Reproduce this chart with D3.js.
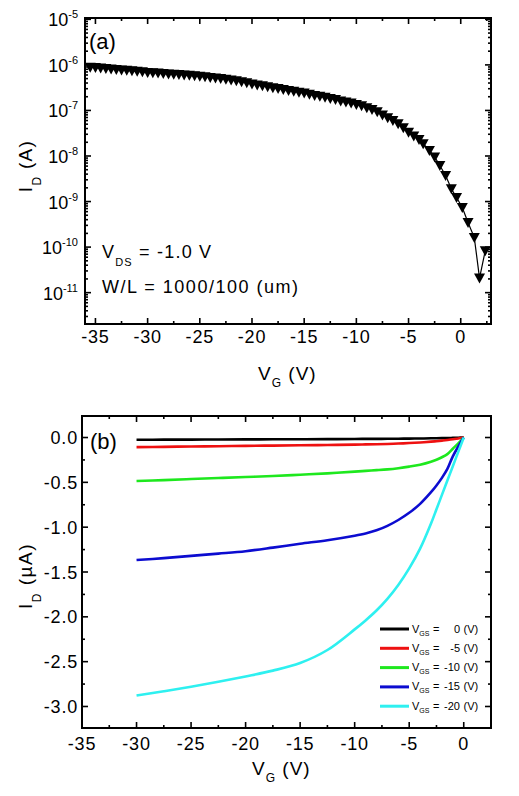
<!DOCTYPE html>
<html><head><meta charset="utf-8">
<script src="https://cdn.jsdelivr.net/npm/d3@7"></script>
<style>
body{margin:0;background:#fff}
svg{display:block}
text{font-family:"Liberation Sans",Arial,Helvetica,sans-serif;fill:#000}
</style>
</head><body>
<svg id="c" width="519" height="796"></svg>
<script>
// ---------------- DATA ----------------
// (a) transfer curve: gate voltage (V) and drain current (A)
const transferVg = [-35.5,-35,-34.5,-34,-33.5,-33,-32.5,-32,-31.5,-31,-30.5,-30,-29.5,-29,-28.5,-28,-27.5,-27,-26.5,-26,-25.5,-25,-24.5,-24,-23.5,-23,-22.5,-22,-21.5,-21,-20.5,-20,-19.5,-19,-18.5,-18,-17.5,-17,-16.5,-16,-15.5,-15,-14.5,-14,-13.5,-13,-12.5,-12,-11.5,-11,-10.5,-10,-9.5,-9,-8.5,-8,-7.5,-7,-6.5,-6,-5.5,-5,-4.5,-4,-3.6,-3.0,-2.5,-2.0,-1.45,-0.9,-0.4,0.15,0.7,1.3,1.8,2.35];
const transferId = [8.91e-7,8.71e-7,8.51e-7,8.32e-7,8.13e-7,7.94e-7,7.76e-7,7.59e-7,7.41e-7,7.24e-7,7.08e-7,6.84e-7,6.76e-7,6.61e-7,6.46e-7,6.31e-7,6.24e-7,6.17e-7,6.03e-7,5.89e-7,5.75e-7,5.62e-7,5.50e-7,5.31e-7,5.13e-7,5.01e-7,4.84e-7,4.68e-7,4.47e-7,4.27e-7,4.07e-7,3.80e-7,3.63e-7,3.47e-7,3.31e-7,3.16e-7,3.02e-7,2.88e-7,2.75e-7,2.63e-7,2.51e-7,2.40e-7,2.26e-7,2.14e-7,2.04e-7,1.95e-7,1.84e-7,1.74e-7,1.62e-7,1.53e-7,1.45e-7,1.35e-7,1.26e-7,1.15e-7,1.05e-7,9.33e-8,7.94e-8,6.92e-8,6.03e-8,5.13e-8,4.17e-8,3.31e-8,2.75e-8,2.29e-8,1.86e-8,1.32e-8,9.55e-9,6.17e-9,3.72e-9,1.91e-9,1.23e-9,7.41e-10,3.47e-10,1.62e-10,2.09e-11,8.32e-11];
const transferXTicks = [-35,-30,-25,-20,-15,-10,-5,0];
const transferYTicks = [1e-11,1e-10,1e-9,1e-8,1e-7,1e-6,1e-5];

// (b) output curves: voltage (V) and drain current (uA)
const outputV = [-30,-27.5,-25,-22.5,-20,-17.5,-15,-12.5,-10,-9,-8,-7,-6,-5,-4,-3,-2.5,-2,-1.5,-1,-0.5,0];
const outputVgs = ["0","-5","-10","-15","-20"];
const outputI0   = [-0.025,-0.024,-0.023,-0.022,-0.021,-0.020,-0.019,-0.018,-0.016,-0.015,-0.015,-0.014,-0.013,-0.012,-0.011,-0.009,-0.008,-0.007,-0.006,-0.004,-0.002,0];
const outputI5   = [-0.107,-0.104,-0.100,-0.097,-0.093,-0.090,-0.087,-0.083,-0.079,-0.077,-0.075,-0.072,-0.067,-0.062,-0.055,-0.046,-0.041,-0.035,-0.028,-0.020,-0.010,0];
const outputI10  = [-0.485,-0.475,-0.463,-0.452,-0.440,-0.430,-0.415,-0.400,-0.380,-0.372,-0.364,-0.355,-0.342,-0.325,-0.303,-0.270,-0.248,-0.220,-0.185,-0.125,-0.065,0];
const outputI15  = [-1.367,-1.345,-1.320,-1.295,-1.268,-1.228,-1.185,-1.145,-1.095,-1.070,-1.035,-0.985,-0.920,-0.840,-0.740,-0.610,-0.535,-0.450,-0.350,-0.210,-0.100,0];
const outputI20  = [-2.878,-2.830,-2.780,-2.725,-2.665,-2.600,-2.515,-2.370,-2.140,-2.040,-1.930,-1.800,-1.645,-1.460,-1.240,-0.960,-0.800,-0.640,-0.480,-0.320,-0.160,0];
const outputXTicks = [-35,-30,-25,-20,-15,-10,-5,0];
const outputYTicks = [0,-0.5,-1.0,-1.5,-2.0,-2.5,-3.0];

// ---------------- STYLE ----------------
const seriesColors = ["#000000","#ee1111","#1ee81e","#0c0cd0","#2ef0f0"];

const svg = d3.select("#c");

function drawFrame(box, x, y, xMajor, xMinor, yMajor, yMinor){
  const g = svg.append("g");
  const mk = (axisFn, scale, vals, size, tr) => {
    const a = g.append("g").attr("transform", tr)
      .call(axisFn(scale).tickValues(vals).tickSize(-size).tickSizeOuter(0).tickFormat("").offset(0));
    a.select(".domain").attr("stroke-width", 2).attr("stroke-linecap","square");
    a.selectAll(".tick line").attr("stroke-width", 1.6);
    return a;
  };
  mk(d3.axisBottom, x, xMajor, 6, `translate(0,${box.b})`);
  mk(d3.axisBottom, x, xMinor, 3, `translate(0,${box.b})`).select(".domain").remove();
  mk(d3.axisTop, x, xMajor, 6, `translate(0,${box.t})`);
  mk(d3.axisTop, x, xMinor, 3, `translate(0,${box.t})`).select(".domain").remove();
  mk(d3.axisLeft, y, yMajor, 6, `translate(${box.l},0)`);
  mk(d3.axisLeft, y, yMinor, 3, `translate(${box.l},0)`).select(".domain").remove();
  mk(d3.axisRight, y, yMajor, 6, `translate(${box.r},0)`);
  mk(d3.axisRight, y, yMinor, 3, `translate(${box.r},0)`).select(".domain").remove();
}

// ================= PANEL (a) =================
const A = {l:85, r:491, t:18, b:324};
const xA = d3.scaleLinear().domain([-36, 2.9]).range([A.l, A.r]);
const yA = d3.scaleLog().domain([2.05e-12, 1.07e-5]).range([A.b, A.t]);

const xMinorA = d3.range(-32.5, 2.6, 5);
const yMinorA = [];
for (let e = -12; e <= -6; e++) for (let k = 2; k <= 9; k++) {
  const v = k * Math.pow(10, e);
  if (v > yA.domain()[0] && v < yA.domain()[1]) yMinorA.push(v);
}

const ptsA = transferVg.map((v,i)=>[v, transferId[i]]);
svg.append("path").datum(ptsA)
  .attr("fill","none").attr("stroke","#000").attr("stroke-width",1.2)
  .attr("d", d3.line().x(d=>xA(d[0])).y(d=>yA(d[1])));
svg.append("g").selectAll("path").data(ptsA).join("path")
  .attr("transform", d=>`translate(${xA(d[0])},${yA(d[1])})`)
  .attr("d","M-5.5,-4.5L5.5,-4.5L0,5.5Z")
  .attr("fill","#000");

drawFrame(A, xA, yA, transferXTicks, xMinorA, transferYTicks, yMinorA);

svg.append("g").selectAll("text").data(transferXTicks).join("text")
  .attr("x", d=>xA(d)).attr("y", A.b + 19)
  .attr("text-anchor","middle").attr("font-size",18).attr("letter-spacing",0.8)
  .text(d=>String(d));
const yl = svg.append("g").selectAll("text").data(transferYTicks).join("text")
  .attr("x", 78).attr("y", d=>yA(d) + 7)
  .attr("text-anchor","end").attr("font-size",18);
yl.append("tspan").text("10");
yl.append("tspan").attr("font-size",11).attr("dy",-8).text(d=>String(Math.round(Math.log10(d))));

const tA = svg.append("text").attr("x", 258).attr("y", 380).attr("font-size",19).attr("letter-spacing",1);
tA.append("tspan").text("V");
tA.append("tspan").attr("font-size",12).attr("dy",7).text("G");
tA.append("tspan").attr("dy",-7).text(" (V)");

const yTa = svg.append("text").attr("transform","translate(32,166) rotate(-90)")
  .attr("text-anchor","middle").attr("font-size",19).attr("letter-spacing",1.3);
yTa.append("tspan").text("I");
yTa.append("tspan").attr("font-size",12).attr("dy",9).text("D");
yTa.append("tspan").attr("dy",-9).text(" (A)");

svg.append("text").attr("x",89).attr("y",49).attr("font-size",22).text("(a)");

const ann1 = svg.append("text").attr("x",102).attr("y",258).attr("font-size",18).attr("letter-spacing",1.2);
ann1.append("tspan").text("V");
ann1.append("tspan").attr("font-size",11).attr("dy",8).text("DS");
ann1.append("tspan").attr("dy",-8).text(" = -1.0 V");
svg.append("text").attr("x",102).attr("y",293).attr("font-size",18).attr("letter-spacing",1.5)
  .text("W/L = 1000/100 (um)");

// ================= PANEL (b) =================
const B = {l:82, r:491, t:416, b:728};
const xB = d3.scaleLinear().domain([-35, 2.5]).range([B.l, B.r]);
const yB = d3.scaleLinear().domain([-3.24, 0.24]).range([B.b, B.t]);
const xMinorB = d3.range(-32.5, 0, 5);
const yMinorB = d3.range(-0.25, -3.2, -0.5);

const outputSeries = [outputI0, outputI5, outputI10, outputI15, outputI20];
const lineB = d3.line().x(d=>xB(d[0])).y(d=>yB(d[1])).curve(d3.curveCatmullRom.alpha(0.5));
svg.append("g").selectAll("path").data(outputSeries).join("path")
  .attr("fill","none").attr("stroke",(d,i)=>seriesColors[i]).attr("stroke-width",2.6)
  .attr("d", s => lineB(outputV.map((v,i)=>[v, s[i]])));

drawFrame(B, xB, yB, outputXTicks, xMinorB, outputYTicks, yMinorB);

svg.append("g").selectAll("text").data(outputXTicks).join("text")
  .attr("x", d=>xB(d)).attr("y", B.b + 22)
  .attr("text-anchor","middle").attr("font-size",18).attr("letter-spacing",0.8)
  .text(d=>String(d));
svg.append("g").selectAll("text").data(outputYTicks).join("text")
  .attr("x", 78).attr("y", d=>yB(d) + 6.5)
  .attr("text-anchor","end").attr("font-size",18).attr("letter-spacing",0.8)
  .text(d=>d.toFixed(1));

const tB = svg.append("text").attr("x", 252).attr("y", 775).attr("font-size",19).attr("letter-spacing",1);
tB.append("tspan").text("V");
tB.append("tspan").attr("font-size",12).attr("dy",7).text("G");
tB.append("tspan").attr("dy",-7).text(" (V)");

const yTb = svg.append("text").attr("transform","translate(32,576) rotate(-90)")
  .attr("text-anchor","middle").attr("font-size",19).attr("letter-spacing",1.5);
yTb.append("tspan").text("I");
yTb.append("tspan").attr("font-size",12).attr("dy",9).text("D");
yTb.append("tspan").attr("dy",-9).text(" (\u00B5A)");

svg.append("text").attr("x",90).attr("y",449).attr("font-size",22).text("(b)");

const leg = svg.append("g").selectAll("g").data(outputVgs).join("g")
  .attr("transform",(d,i)=>`translate(0,${629 + i*19.3})`);
leg.append("line").attr("x1",380).attr("x2",409).attr("y1",0).attr("y2",0)
  .attr("stroke",(d,i)=>seriesColors[i]).attr("stroke-width",3);
const lt = leg.append("text").attr("x",412).attr("y",3.5).attr("font-size",11);
lt.append("tspan").text("V");
lt.append("tspan").attr("font-size",7).attr("dy",3).text("GS");
lt.append("tspan").attr("dy",-3).attr("x",433).text("=");
leg.append("text").attr("x",460).attr("y",3.5).attr("font-size",11).attr("text-anchor","end").text(d=>d);
leg.append("text").attr("x",463.5).attr("y",3.5).attr("font-size",11).text("(V)");
</script>
</body></html>
